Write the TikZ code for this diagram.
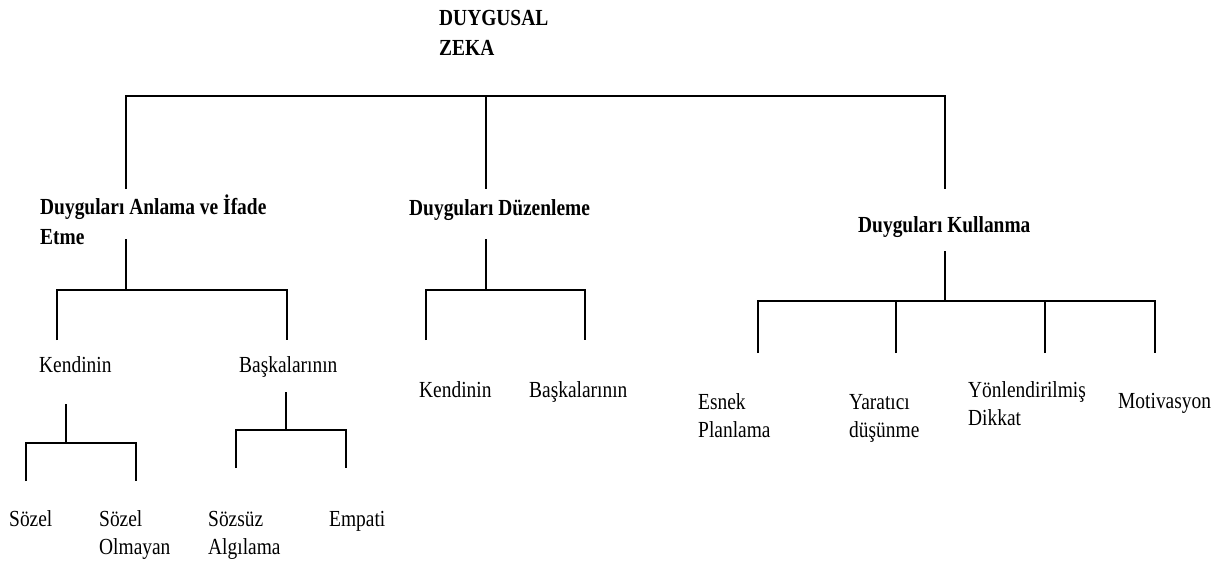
\documentclass[tikz,border=0pt]{standalone}
\usepackage{fontspec}
\setmainfont[FakeStretch=0.845]{Liberation Serif}

\begin{document}
\begin{tikzpicture}[x=1pt, y=-1pt,
    txt/.style = {anchor=north west, inner sep=0pt, align=left, font=\fontsize{23}{28}\selectfont},
    head/.style = {txt, font=\fontsize{23}{29.5}\selectfont\bfseries},
    br/.style = {line width=2.3pt},
    thinbr/.style = {line width=1.2pt}]
                \useasboundingbox (0,0) rectangle (1228,562);
                \node[head] (root) at (439,10.5) {DUYGUSAL\\ZEKA};
                \node[head] (anl) at (40,195) {Duyguları Anlama ve İfade\\Etme};
                \node[head] (duz) at (409,199.5) {Duyguları Düzenleme};
                \node[head] (kul) at (858,216.5) {Duyguları Kullanma};
                \node[txt] (ken1) at (39,356.3) {Kendinin};
                \node[txt] (bas1) at (239,356.3) {Başkalarının};
                \node[txt] (ken2) at (419,381.3) {Kendinin};
                \node[txt] (bas2) at (529,381.3) {Başkalarının};
                \node[txt] (esn) at (698,393.3) {Esnek\\Planlama};
                \node[txt] (yar) at (849,393.8) {Yaratıcı\\düşünme};
                \node[txt] (yon) at (968,381.3) {Yönlendirilmiş\\Dikkat};
                \node[txt] (mot) at (1118,393.3) {Motivasyon};
                \node[txt] (soz) at (9,510.3) {Sözel};
                \node[txt] (szo) at (99,510.3) {Sözel\\Olmayan};
                \node[txt] (ssz) at (208,511.5) {Sözsüz\\Algılama};
                \node[txt] (emp) at (329,511.3) {Empati};
                % top level
                \coordinate (bar) at (486,96);
                \coordinate (a1) at (126,189);
                \coordinate (a2) at (486,189);
                \coordinate (a3) at (945,189);
                \draw[br] (a1) |- (bar) -| (a3);
                \draw[br] (bar) -- (a2);
                % Duygulari Anlama ve Ifade Etme
                \coordinate (s1) at (126,239);
                \coordinate (j1) at (126,290);
                \coordinate (e11) at (57,340);
                \coordinate (e12) at (287,340);
                \draw[br] (s1) -- (j1);
                \draw[br] (e11) |- (j1) -| (e12);
                % Duygulari Duzenleme
                \coordinate (s2) at (486,239);
                \coordinate (j2) at (486,290);
                \coordinate (e21) at (426,340);
                \coordinate (e22) at (585,340);
                \draw[br] (s2) -- (j2);
                \draw[br] (e21) |- (j2) -| (e22);
                % Duygulari Kullanma
                \coordinate (s3) at (945,251);
                \coordinate (j3) at (945,301);
                \coordinate (e31) at (758,353);
                \coordinate (e32) at (896,353);
                \coordinate (e33) at (1045,353);
                \coordinate (e34) at (1155,353);
                \draw[br] (s3) -- (j3);
                \draw[br] (e31) |- (j3) -| (e34);
                \draw[br] (e32) -- (e32 |- j3);
                \draw[br] (e33) -- (e33 |- j3);
                % Kendinin
                \coordinate (s4) at (66,404);
                \coordinate (j4) at (66,443);
                \coordinate (e41) at (26,481);
                \coordinate (e42) at (136,481);
                \draw[thinbr] (s4) -- (j4);
                \draw[thinbr] (e41) |- (j4) -| (e42);
                % Baskalarinin
                \coordinate (s5) at (286,392);
                \coordinate (j5) at (286,430);
                \coordinate (e51) at (236,468);
                \coordinate (e52) at (346,468);
                \draw[thinbr] (s5) -- (j5);
                \draw[thinbr] (e51) |- (j5) -| (e52);
            \end{tikzpicture}
\end{document}
